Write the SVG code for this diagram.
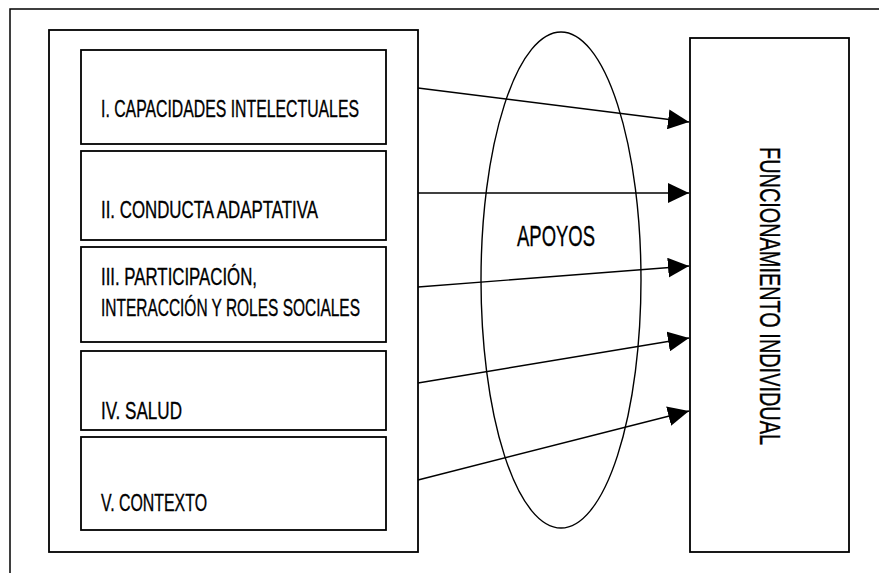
<svg xmlns="http://www.w3.org/2000/svg" width="879" height="573" viewBox="0 0 879 573">
  <style>
    .frame { fill: none; stroke: #000; stroke-width: 1.5; }
    .box { fill: #fff; stroke: #000; stroke-width: 1.8; }
    .oval { fill: none; stroke: #000; stroke-width: 1.4; }
    .lbl { font-family: 'Liberation Sans Narrow', 'Liberation Sans', Arial, sans-serif; font-size: 23.5px; fill: #000; stroke: #000; stroke-width: 0.35; }
    .big { font-size: 29px; }
    .conn { stroke: #000; stroke-width: 1.4; fill: none; marker-end: url(#head); }
  </style>
  <defs>
    <marker id="head" markerUnits="userSpaceOnUse" markerWidth="21" markerHeight="20" refX="21" refY="10" orient="auto">
      <path d="M0,0 L21,10 L0,20 Z" fill="#000"/>
    </marker>
  </defs>

  <rect width="879" height="573" fill="#fff"/>

  <!-- outer page frame -->
  <rect class="frame" x="10" y="9" width="900" height="600"/>

  <!-- dimensions container -->
  <g id="dimensions">
    <rect class="box" x="49" y="30" width="369" height="522"/>
  </g>

  <g id="dim-1">
    <rect class="box" x="81" y="50" width="305" height="94"/>
    <text class="lbl" x="101" y="117" textLength="258" lengthAdjust="spacingAndGlyphs">I. CAPACIDADES INTELECTUALES</text>
  </g>
  <g id="dim-2">
    <rect class="box" x="81" y="151" width="305" height="89"/>
    <text class="lbl" x="101" y="218" textLength="217" lengthAdjust="spacingAndGlyphs">II. CONDUCTA ADAPTATIVA</text>
  </g>
  <g id="dim-3">
    <rect class="box" x="81" y="247" width="305" height="95"/>
    <text class="lbl" x="101" y="285" textLength="156" lengthAdjust="spacingAndGlyphs">III. PARTICIPACIÓN,</text>
    <text class="lbl" x="101" y="316" textLength="259" lengthAdjust="spacingAndGlyphs">INTERACCIÓN Y ROLES SOCIALES</text>
  </g>
  <g id="dim-4">
    <rect class="box" x="81" y="351" width="305" height="79"/>
    <text class="lbl" x="101" y="419" textLength="81" lengthAdjust="spacingAndGlyphs">IV. SALUD</text>
  </g>
  <g id="dim-5">
    <rect class="box" x="81" y="437" width="305" height="93"/>
    <text class="lbl" x="101" y="511" textLength="106" lengthAdjust="spacingAndGlyphs">V. CONTEXTO</text>
  </g>

  <!-- supports -->
  <g id="apoyos">
    <ellipse class="oval" cx="561" cy="280" rx="80" ry="248"/>
    <text class="lbl big" x="517" y="246" textLength="78" lengthAdjust="spacingAndGlyphs">APOYOS</text>
  </g>

  <!-- outcome -->
  <g id="funcionamiento">
    <rect class="box" x="690" y="38" width="159" height="514"/>
    <text class="lbl big" transform="translate(760,147) rotate(90)" textLength="298" lengthAdjust="spacingAndGlyphs">FUNCIONAMIENTO INDIVIDUAL</text>
  </g>

  <g id="connectors">
    <line class="conn" x1="418" y1="88" x2="689" y2="122"/>
    <line class="conn" x1="418" y1="193" x2="689" y2="193"/>
    <line class="conn" x1="418" y1="287" x2="689" y2="266"/>
    <line class="conn" x1="418" y1="383" x2="689" y2="338"/>
    <line class="conn" x1="418" y1="480" x2="689" y2="411"/>
  </g>
</svg>
